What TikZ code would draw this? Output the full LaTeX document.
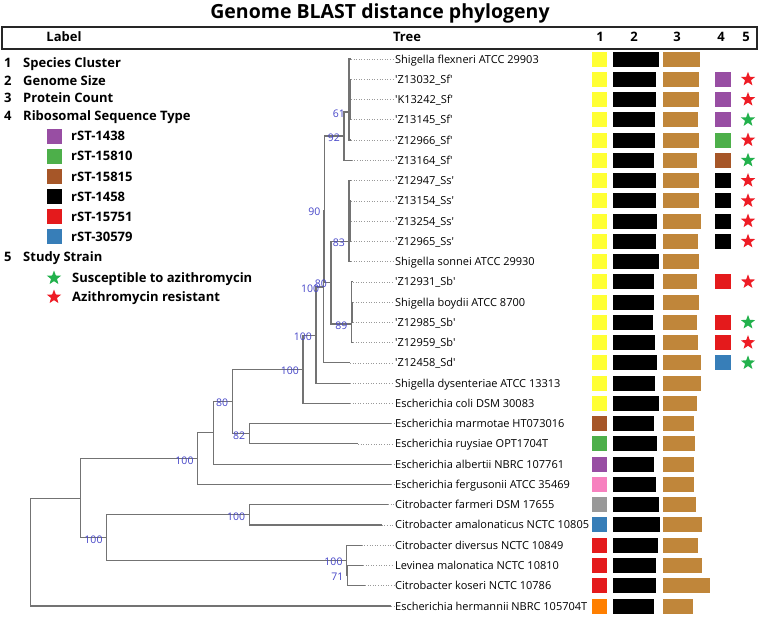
\documentclass[tikz,border=0pt]{standalone}
\usepackage{fontspec}
\setmainfont{Open Sans}
\usetikzlibrary{shapes.geometric}
\definecolor{stpurple}{HTML}{984EA3}
\definecolor{stgreen}{HTML}{4DAF4A}
\definecolor{stbrown}{HTML}{A65628}
\definecolor{stred}{HTML}{E41A1C}
\definecolor{stblue}{HTML}{377EB8}
\definecolor{styellow}{HTML}{FFFF33}
\definecolor{stpink}{HTML}{F781BF}
\definecolor{stgray}{HTML}{999999}
\definecolor{storange}{HTML}{FF7F00}
\definecolor{protbrown}{HTML}{C0863A}
\definecolor{bootblue}{HTML}{4646C8}
\definecolor{resred}{HTML}{EE1C25}
\definecolor{susgreen}{HTML}{22B14C}
\newcommand{\sq}{\textquotesingle}

\begin{document}
\begin{tikzpicture}[x=1pt,y=-1pt,
    branch/.style={draw=black!55, line width=1.1pt},
    dotline/.style={draw=black!40, dotted, line width=0.6pt},
    leaf/.style={anchor=base west, inner sep=1pt, font=\fontsize{11}{13}\selectfont},
    boot/.style={anchor=east, inner sep=0pt, xshift=-4pt, yshift=-1.5pt, text=bootblue, font=\fontsize{10.5}{12}\selectfont},
    legtext/.style={anchor=base west, inner sep=0pt, font=\bfseries\fontsize{13}{15}\selectfont},
    cellbox/.style={minimum width=15pt, minimum height=15pt, inner sep=0pt},
    starmark/.style={star, star points=5, star point ratio=2.4, minimum size=15pt, inner sep=0pt}]
  \useasboundingbox (0,0) rectangle (760,616);

  % title and header row
  \node[anchor=base, font=\bfseries\fontsize{19.5}{22}\selectfont] (title) at (380,18.5) {Genome BLAST distance phylogeny};
  \draw[line width=1.8pt, black!85] (2,27) rectangle (757,49);
  \node[anchor=base, font=\bfseries\fontsize{13}{15}\selectfont] (hlabel) at (64,41.7) {Label};
  \node[anchor=base, font=\bfseries\fontsize{13}{15}\selectfont] (htree) at (407,41.7) {Tree};
  \foreach \k/\hx in {1/600,2/634,3/677,4/721,5/746}
    \node[anchor=base, font=\bfseries\fontsize{13}{15}\selectfont] (h\k) at (\hx,41.7) {\k};

  % legend
  \node[legtext] (k1) at (4,67.8) {1}; \node[legtext] (k1t) at (23,67.8) {Species Cluster};
  \node[legtext] (k2) at (4,85.5) {2}; \node[legtext] (k2t) at (23,85.5) {Genome Size};
  \node[legtext] (k3) at (4,102.8) {3}; \node[legtext] (k3t) at (23,102.8) {Protein Count};
  \node[legtext] (k4) at (4,120.5) {4}; \node[legtext] (k4t) at (23,120.5) {Ribosomal Sequence Type};
  \foreach \j/\col/\st in {0/stpurple/1438,1/stgreen/15810,2/stbrown/15815,3/black/1458,4/stred/15751,5/stblue/30579}{
    \pgfmathsetmacro\ly{136+20.15*\j}
    \node[cellbox, fill=\col] (s\st) at (54.5,\ly) {};
    \node[legtext] (s\st t) at (71,\ly+4.7) {rST-\st};
  }
  \node[legtext] (k5) at (4,261.5) {5}; \node[legtext] (k5t) at (23,261.5) {Study Strain};
  \node[starmark, fill=susgreen] (ssus) at (54,278) {};
  \node[legtext] (ssust) at (72,282.7) {Susceptible to azithromycin};
  \node[starmark, fill=resred] (sres) at (54,297) {};
  \node[legtext] (srest) at (72,301.7) {Azithromycin resistant};

  % leaves with their three data columns
  \foreach \i/\tx/\name/\ca/\bb/\bc in {
      0/351/{Shigella flexneri ATCC 29903}/styellow/658.7/700,
      1/351/{\sq Z13032\_Sf\sq}/styellow/656/699.3,
      2/351/{\sq K13242\_Sf\sq}/styellow/656/699.3,
      3/351/{\sq Z13145\_Sf\sq}/styellow/654.7/698.3,
      4/351/{\sq Z12966\_Sf\sq}/styellow/655.3/699,
      5/351.7/{\sq Z13164\_Sf\sq}/styellow/653.7/697,
      6/351/{\sq Z12947\_Ss\sq}/styellow/656/699.3,
      7/351/{\sq Z13154\_Ss\sq}/styellow/655.7/699,
      8/351/{\sq Z13254\_Ss\sq}/styellow/657.3/701,
      9/351/{\sq Z12965\_Ss\sq}/styellow/655.7/698.3,
      10/351/{Shigella sonnei ATCC 29930}/styellow/659/698.7,
      11/353/{\sq Z12931\_Sb\sq}/styellow/654.3/697,
      12/353/{Shigella boydii ATCC 8700}/styellow/654.3/699,
      13/353/{\sq Z12985\_Sb\sq}/styellow/653.3/696.7,
      14/353/{\sq Z12959\_Sb\sq}/styellow/654.7/698.3,
      15/350/{\sq Z12458\_Sd\sq}/styellow/656.7/701,
      16/350/{Shigella dysenteriae ATCC 13313}/styellow/654.7/701,
      17/350/{Escherichia coli DSM 30083}/styellow/659.3/697.3,
      18/391/{Escherichia marmotae HT073016}/stbrown/654.3/694,
      19/358/{Escherichia ruysiae OPT1704T}/stgreen/657/695,
      20/391/{Escherichia albertii NBRC 107761}/stpurple/654/694.3,
      21/391/{Escherichia fergusonii ATCC 35469}/stpink/656/694.3,
      22/388/{Citrobacter farmeri DSM 17655}/stgray/658.7/696.3,
      23/381.7/{Citrobacter amalonaticus NCTC 10805}/stblue/660/701.7,
      24/361.7/{Citrobacter diversus NCTC 10849}/stred/658/698,
      25/363/{Levinea malonatica NCTC 10810}/stred/656.3/701.7,
      26/365/{Citrobacter koseri NCTC 10786}/stred/656/710,
      27/391/{Escherichia hermannii NBRC 105704T}/storange/654.3/693.3}{
    \pgfmathsetmacro\y{59+20.26*\i}
    \coordinate (t\i) at (\tx,\y);
    \node[leaf] (l\i) at (394,\y+4) {\name};
    \draw[dotline] (t\i) -- (l\i.west |- t\i);
    \node[cellbox, fill=\ca] (c\i) at (599.5,\y) {};
    \fill[black] (613,\y-7.5) rectangle (\bb,\y+7.5);
    \fill[protbrown] (663,\y-7.5) rectangle (\bc,\y+7.5);
  }

  % column 4 and 5
  \coordinate (c4) at (723,0);
  \coordinate (c5) at (748,0);
  \foreach \i/\col in {1/stpurple,2/stpurple,3/stpurple,4/stgreen,5/stbrown,6/black,7/black,8/black,9/black,11/stred,13/stred,14/stred,15/stblue}
    \node[cellbox, minimum width=16pt, fill=\col] (r\i) at (c4 |- t\i) {};
  \foreach \i/\col in {1/resred,2/resred,3/susgreen,4/resred,5/susgreen,6/resred,7/resred,8/resred,9/resred,11/resred,13/susgreen,14/resred,15/susgreen}
    \node[starmark, fill=\col] (a\i) at (c5 |- t\i) {};

  % internal nodes of the tree
  \coordinate (nroot) at (30.7,552);
  \coordinate (nU) at (80.3,498.6);
  \coordinate (n100d) at (197.7,458.8);
  \coordinate (nS) at (213.3,432.8);
  \coordinate (n80b) at (232.3,401.5);
  \coordinate (n82) at (249.3,433.8);
  \coordinate (n100c) at (303,369.3);
  \coordinate (n100b) at (316,335.2);
  \coordinate (n100a) at (323.3,287);
  \coordinate (n90) at (324.5,210.7);
  \coordinate (n92) at (344,136);
  \coordinate (n61) at (349,112);
  \coordinate (nC) at (350,99.5);
  \coordinate (n80a) at (331,282.6);
  \coordinate (n83) at (349,241.3);
  \coordinate (nE) at (350,221);
  \coordinate (n89) at (351.5,324);
  \coordinate (nH) at (352.3,312);
  \coordinate (n100e) at (106.7,537.8);
  \coordinate (n100f) at (249.3,514.9);
  \coordinate (n100g) at (346.7,560.4);
  \coordinate (n71) at (347.5,575.6);

  \draw[branch] (nroot) |- (nU) (nroot) |- (t27)
    (nU) |- (n100d) (nU) |- (n100e)
    (n100d) |- (nS) (n100d) |- (t21)
    (nS) |- (n80b) (nS) |- (t20)
    (n80b) |- (n100c) (n80b) |- (n82)
    (n82) |- (t18) (n82) |- (t19)
    (n100c) |- (n100b) (n100c) |- (t17)
    (n100b) |- (n100a) (n100b) |- (t16)
    (n100a) |- (n90) (n100a) |- (t15)
    (n90) |- (n92) (n90) |- (n80a)
    (n92) |- (n61) (n92) |- (t5)
    (n61) |- (t0) (n61) |- (t4) (n61) |- (nC)
    (nC) |- (t1) (nC) |- (t2) (nC) |- (t3)
    (n80a) |- (n83) (n80a) |- (n89)
    (n83) |- (t6) (n83) |- (t10) (n83) |- (nE)
    (nE) |- (t7) (nE) |- (t8) (nE) |- (t9)
    (n89) |- (t11) (n89) |- (t14) (n89) |- (nH)
    (nH) |- (t12) (nH) |- (t13)
    (n100e) |- (n100f) (n100e) |- (n100g)
    (n100f) |- (t22) (n100f) |- (t23)
    (n100g) |- (t24) (n100g) |- (n71)
    (n71) |- (t25) (n71) |- (t26);

  % support values
  \node[boot] (b61) at (n61) {61};
  \node[boot] (b92) at (n92) {92};
  \node[boot] (b90) at (n90) {90};
  \node[boot] (b80a) at (n80a) {80};
  \node[boot] (b83) at (n83) {83};
  \node[boot] (b89) at (n89) {89};
  \node[boot] (b100a) at (n100a) {100};
  \node[boot] (b100b) at (n100b) {100};
  \node[boot] (b100c) at (n100c) {100};
  \node[boot] (b80b) at (n80b) {80};
  \node[boot] (b82) at (n82) {82};
  \node[boot] (b100d) at (n100d) {100};
  \node[boot] (b100e) at (n100e) {100};
  \node[boot] (b100f) at (n100f) {100};
  \node[boot] (b100g) at (n100g) {100};
  \node[boot] (b71) at (n71) {71};
\end{tikzpicture}
\end{document}
